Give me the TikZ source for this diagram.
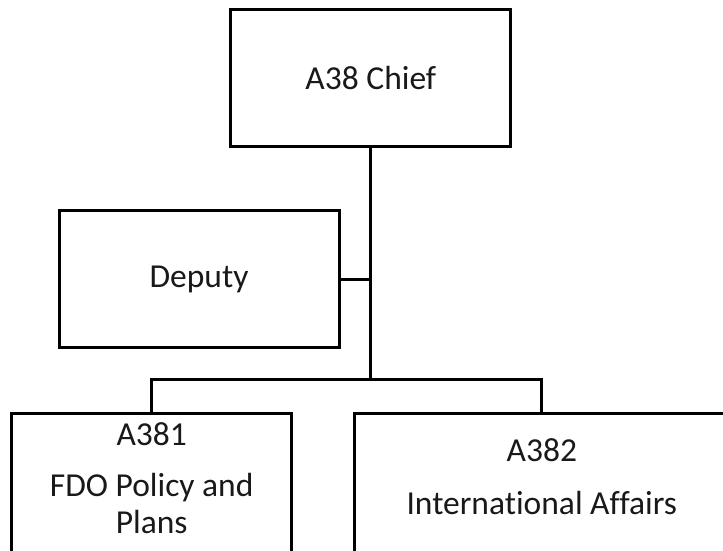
\documentclass[tikz,border=0pt]{standalone}
\usepackage{fontspec}
\setmainfont[Ligatures={NoCommon}]{Carlito}
\newcommand\orgfont{\fontsize{33.5}{36}\selectfont}
\begin{document}
\begin{tikzpicture}[x=1pt,y=-1pt,
  unitbox/.style={draw=black,line width=3pt,rectangle,inner sep=0pt,
    minimum width=280pt,minimum height=137.5pt,font=\orgfont,text=black!90},
  lowbox/.style={unitbox,anchor=north,minimum height=200pt},
  label/.style={font=\orgfont,text=black!90,anchor=base,inner sep=0pt},
  link/.style={draw=black,line width=3pt}]
  \useasboundingbox (0,0) rectangle (723,550);

  % units
  \node[unitbox] (chief)  at (370.8,77.8)  {A38 Chief};
  \node[unitbox] (deputy) at (199,279.2)   {Deputy};
  \node[lowbox] (a381) at (151.7,411.5) {};
  \node[lowbox,minimum width=374pt] (a382) at (541.8,411.5) {};

  % texts of the lower units
  \node[label] (a381code) at (151.7,445)   {A381};
  \node[label] (a381name) at (151.7,496.5) {FDO Policy and};
  \node[label] (a381more) at (151.7,533)   {Plans};
  \node[label] (a382code) at (541.8,461)   {A382};
  \node[label] (a382name) at (541.8,514.5) {International Affairs};

  % reporting lines
  \coordinate (bus) at (370.8,379.3);
  \draw[link] (chief.south) -- (bus);
  \draw[link] (deputy.east) -- (deputy.east -| bus);
  \draw[link] (a381.north) |- (bus) -| (a382.north);
\end{tikzpicture}
\end{document}
